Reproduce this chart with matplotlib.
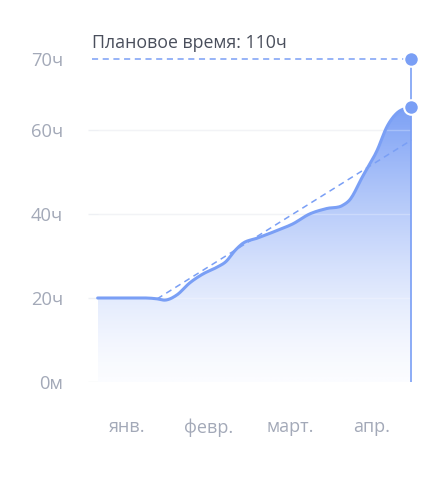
import numpy as np
import matplotlib
matplotlib.use('Agg')
import matplotlib.pyplot as plt
from matplotlib.colors import LinearSegmentedColormap
from matplotlib.patches import Polygon

plt.rcParams['font.family'] = ['Open Sans', 'DejaVu Sans']

# months on the x axis (0 = янв.)
months = ['янв.', 'февр.', 'март.', 'апр.']
month_pos = [0, 1, 2, 3]

actual_x = [-0.36, -0.05, 0.37, 0.47, 0.61, 0.77, 0.93, 1.11, 1.21, 1.33, 1.42,
            1.59, 1.87, 2.03, 2.24, 2.45, 2.65, 2.73, 2.89, 3.07, 3.19, 3.31,
            3.43, 3.49]
actual_y = [20.0, 20.0, 19.8, 19.5, 20.7, 23.6, 25.7, 27.4, 28.6, 31.4, 33.0,
            34.2, 36.3, 37.6, 40.0, 41.3, 42.1, 43.3, 48.9, 55.2, 60.8, 64.0,
            65.2, 65.4]

# planned trend (dashed)
trend_x = [0.37, 3.49]
trend_y = [19.8, 57.6]

# planned total: 110ч, drawn at the "70ч" slot of the axis
plan_y = 76.9
plan_label = 'Плановое время: 110ч'

grid_vals = [0, 20, 40, 60]
tick_vals = [0, 20, 40, 60, plan_y]
tick_labels = ['0м', '20ч', '40ч', '60ч', '70ч']

blue = '#7a9ff5'
grey = '#a3a9b8'


def smooth(xs, ys, n=12):
    # cubic hermite through the points, for a rounded line
    xs, ys = np.asarray(xs, float), np.asarray(ys, float)
    m = np.gradient(ys, xs)
    m[0] = m[-1] = 0
    out_x, out_y = [], []
    for i in range(len(xs) - 1):
        h = xs[i + 1] - xs[i]
        t = np.linspace(0, 1, n, endpoint=False)
        h00 = 2 * t**3 - 3 * t**2 + 1
        h10 = t**3 - 2 * t**2 + t
        h01 = -2 * t**3 + 3 * t**2
        h11 = t**3 - t**2
        out_x.extend(xs[i] + t * h)
        out_y.extend(h00 * ys[i] + h10 * h * m[i] + h01 * ys[i + 1] + h11 * h * m[i + 1])
    out_x.append(xs[-1])
    out_y.append(ys[-1])
    return np.array(out_x), np.array(out_y)


sx, sy = smooth(actual_x, actual_y)
end_x = actual_x[-1]

W, H = 443, 482
fig = plt.figure(figsize=(W / 100, H / 100), dpi=100)
ax = fig.add_axes([88 / W, (H - 382) / H, (420 - 88) / W, (382 - 40) / H])
x0, x1 = (88 - 127) / 81.5, (420 - 127) / 81.5
ax.set_xlim(x0, x1)
ax.set_ylim(0, (382 - 40) / 4.2)

for s in ax.spines.values():
    s.set_visible(False)

ax.hlines(grid_vals, x0, end_x, color='#eef0f4', lw=1, zorder=0.5)

# gradient fill under the curve
cmap = LinearSegmentedColormap.from_list('g', ['#fbfcff', blue])
grad = np.linspace(0, 1, 256).reshape(-1, 1) ** 1.4
img = ax.imshow(grad, cmap=cmap, aspect='auto', origin='lower',
                extent=[actual_x[0], end_x, 0, 66], zorder=1, vmin=0, vmax=1)
poly = Polygon(list(zip(sx, sy)) + [(end_x, 0), (actual_x[0], 0)],
               closed=True, facecolor='none', edgecolor='none')
ax.add_patch(poly)
img.set_clip_path(poly)

ax.hlines(grid_vals, actual_x[0], end_x, color='white', lw=1, zorder=1.5, alpha=0.25)

ax.plot(sx, sy, color=blue, lw=2.2, solid_capstyle='round', zorder=3)
ax.plot(trend_x, trend_y, color=blue, lw=1.1, ls=(0, (4, 3)), zorder=2)
ax.plot([x0 + 0.05, end_x], [plan_y, plan_y], color=blue, lw=1.1, ls=(0, (4, 3)), zorder=2)
ax.plot([end_x, end_x], [0, plan_y], color=blue, lw=1.2, zorder=2)
ax.scatter([end_x, end_x], [actual_y[-1], plan_y], s=110, color=blue,
           edgecolor='white', linewidth=1.5, zorder=5, clip_on=False)

ax.text(x0 + 0.05, plan_y + 3.8, plan_label, fontsize=12.8, color='#4a4f5c',
        va='center', ha='left')

ax.set_yticks(tick_vals)
ax.set_yticklabels(tick_labels)
ax.set_xticks(month_pos)
ax.set_xticklabels(months)
ax.tick_params(axis='y', length=0, pad=18, labelsize=13.2, labelcolor=grey)
ax.tick_params(axis='x', length=0, pad=26, labelsize=13, labelcolor=grey)

fig.savefig('out.png', dpi=100)
